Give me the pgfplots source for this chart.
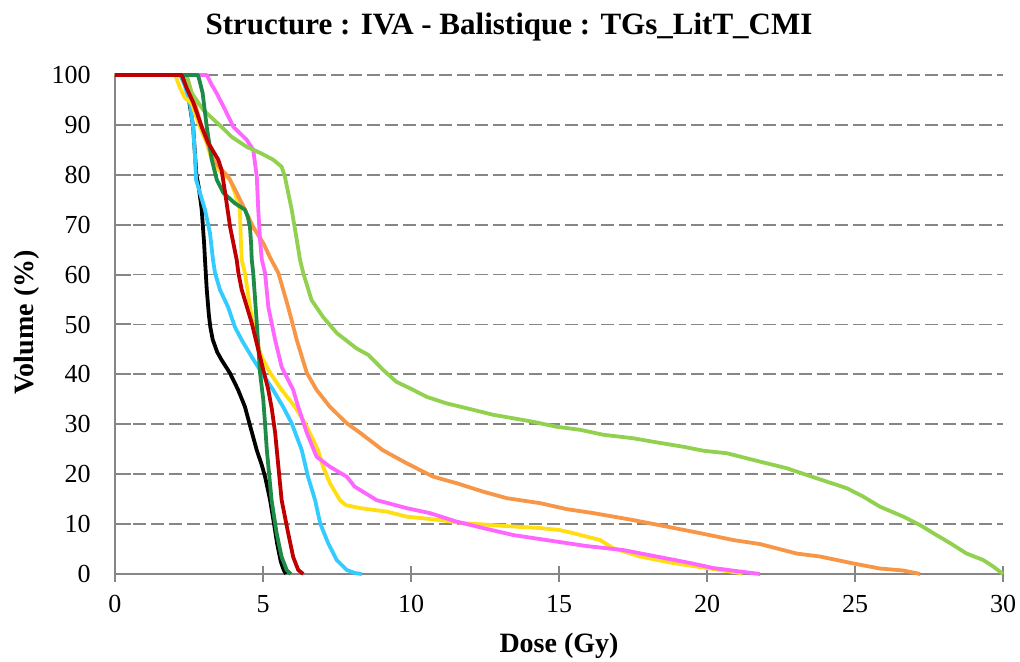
\documentclass[border=0pt]{standalone}
\usepackage{fontspec}
\setmainfont{Liberation Serif}
\usepackage{pgfplots}
\pgfplotsset{compat=1.18}

\definecolor{cblue}{RGB}{51,204,255}
\definecolor{cdgreen}{RGB}{30,140,70}
\definecolor{cred}{RGB}{192,0,0}
\definecolor{cyellow}{RGB}{255,222,20}
\definecolor{corange}{RGB}{247,150,70}
\definecolor{cpink}{RGB}{255,102,255}
\definecolor{clgreen}{RGB}{146,208,80}
\definecolor{cgrid}{RGB}{134,134,134}

\begin{document}
\begin{tikzpicture}
\useasboundingbox (-57.5pt,-44pt) rectangle (452.5pt,287pt);
\begin{axis}[
  scale only axis,
  width=444pt, height=249.5pt,
  xmin=0, xmax=30, ymin=0, ymax=100,
  xtick={0,5,...,30}, ytick={0,10,...,100},
  clip=false,
  axis lines*=left,
  axis line style={cgrid, line width=1.1pt},
  tick style={cgrid, line width=1pt},
  major tick length=8pt,
  xtick align=center, ytick align=inside,
  ymajorgrids,
  major grid style={cgrid, line width=0.9pt, dash pattern=on 6.5pt off 2.5pt},
  /pgf/number format/assume math mode=true,
  tick label style={font=\fontsize{13}{15}\selectfont},
  xticklabel style={yshift=-3pt},
  yticklabel style={xshift=-8.7pt},
  xlabel={\textbf{Dose (Gy)}},
  ylabel={\textbf{Volume (\%)}},
  label style={font=\fontsize{14}{16}\selectfont},
  xlabel style={at={(rel axis cs:0.5,-0.158)}, anchor=base},
  ylabel style={at={(rel axis cs:-0.0923,0.504)}, anchor=base},
  every axis plot/.append style={line width=1.9pt, line join=round, no marks},
]
% black
\addplot[black] coordinates {
(0,100) (2.35,100) (2.5,95) (2.64,89.6) (2.75,80) (2.83,77.5) (2.93,73) (3.01,66.3) (3.05,62) (3.1,57) (3.17,52) (3.22,49.5) (3.3,47) (3.45,44.5) (3.6,42.9) (3.88,40.3) (4.16,36.9) (4.39,33.5) (4.55,30) (4.79,24.8) (4.95,22) (5.07,19.5) (5.24,14.8) (5.36,10.5) (5.48,6) (5.6,2.5) (5.7,0.8) (5.78,0)
};
% light blue
\addplot[cblue] coordinates {
(0,100) (2.2,100) (2.35,98) (2.53,94.4) (2.64,89.6) (2.7,84) (2.74,79) (2.87,76.4) (3.04,73) (3.21,68.3) (3.31,63) (3.38,60.3) (3.55,56.9) (3.82,53.5) (4.05,49.5) (4.28,46.9) (4.62,43.5) (4.96,40.3) (5.34,36.9) (5.68,33.5) (5.97,30.2) (6.31,24.8) (6.52,19.5) (6.76,14.8) (6.93,10.2) (7.2,6.2) (7.49,2.8) (7.83,0.8) (8.1,0.2) (8.34,0)
};
% yellow
\addplot[cyellow] coordinates {
(0,100) (2.03,100) (2.2,97.4) (2.36,95.4) (2.59,94.3) (2.87,89.6) (3.1,86.4) (3.27,83) (3.49,81) (3.89,79) (4.05,76.4) (4.22,73) (4.25,67) (4.28,63) (4.39,60.3) (4.56,53.5) (4.78,46.9) (4.95,43.5) (5.24,40.3) (5.63,36.9) (6.08,33.5) (6.42,30.2) (6.69,26.9) (6.86,24.8) (7.03,21.5) (7.26,18.2) (7.6,14.8) (7.8,13.8) (8.28,13.2) (9.18,12.5) (9.85,11.5) (10.98,10.8) (11.76,10.2) (13.23,9.6) (14.36,9.2) (15.03,8.8) (15.47,8.2) (16.39,6.8) (16.82,5.2) (17.74,3.5) (18.85,2.2) (19.99,1.2) (21.11,0.2) (21.2,0)
};
% orange
\addplot[corange] coordinates {
(0,100) (2.42,100) (2.59,96.4) (2.93,89.6) (3.32,83) (3.6,81) (3.83,79.6) (4.11,76.4) (4.39,73) (4.67,69.5) (5.01,66.3) (5.25,63.3) (5.52,60.3) (5.85,53.5) (6.14,46.9) (6.48,40.3) (6.81,36.9) (7.26,33.5) (7.83,30.2) (8.28,28.3) (9.05,24.8) (9.85,22.2) (10.75,19.5) (11.54,18.2) (12.44,16.5) (13.23,15.2) (14.36,14.2) (15.26,13) (16.16,12.2) (17.51,10.8) (18.64,9.5) (19.76,8.2) (20.89,6.8) (21.79,6.0) (23.03,4.1) (23.82,3.5) (24.95,2.1) (25.84,1.1) (26.63,0.7) (27.2,0)
};
% pink
\addplot[cpink] coordinates {
(0,100) (3.1,100) (3.27,98) (3.44,96.3) (3.72,93) (4,89.6) (4.45,87) (4.67,85) (4.79,79.6) (4.84,73) (4.9,67) (4.96,63) (5.07,60.3) (5.18,53.5) (5.41,46.9) (5.63,41.5) (6.02,36.9) (6.19,33.5) (6.48,28.3) (6.81,23.5) (7.26,21.5) (7.83,19.5) (8.1,17.5) (8.84,14.8) (9.85,13.2) (10.64,12.2) (11.54,10.5) (12.44,9.2) (13.46,7.8) (14.58,6.8) (15.93,5.6) (17.17,4.8) (18.3,3.5) (19.43,2.2) (20.21,1.2) (21.11,0.5) (21.79,0)
};
% light green
\addplot[clgreen] coordinates {
(0,100) (2.4,100) (2.59,96.4) (2.98,93) (3.6,89.6) (3.94,87.6) (4.45,85.6) (4.9,84.4) (5.35,83) (5.63,81.6) (5.74,79.6) (5.97,73) (6.14,67) (6.25,63) (6.36,60.3) (6.64,54.9) (7.03,51.5) (7.49,48.3) (8.16,45.2) (8.56,43.9) (9.06,40.9) (9.51,38.5) (9.97,37.2) (10.53,35.5) (11.2,34.2) (12.1,32.9) (12.78,31.9) (13.46,31.2) (14.13,30.5) (14.92,29.5) (15.71,28.9) (16.5,27.9) (17.51,27.2) (18.18,26.5) (19.2,25.5) (19.88,24.7) (20.67,24.2) (21.6,22.8) (22.69,21.2) (23.9,18.8) (24.72,17.2) (25.28,15.5) (25.84,13.5) (26.63,11.5) (27.2,9.8) (27.64,8.2) (28.21,6.2) (28.77,4.1) (29.33,2.8) (29.67,1.5) (30,0)
};
% dark green
\addplot[cdgreen] coordinates {
(0,100) (2.8,100) (2.85,99) (2.96,96.4) (3.1,89.6) (3.27,83) (3.44,79) (3.66,76.4) (4.05,74.3) (4.39,73) (4.49,71.5) (4.56,69.5) (4.6,66) (4.62,63) (4.67,60.3) (4.79,50.3) (4.9,40.3) (5.01,34.9) (5.07,30) (5.13,24.8) (5.29,14.8) (5.46,8.2) (5.63,3.4) (5.8,0.8) (5.94,0)
};
% red
\addplot[cred] coordinates {
(0,100) (2.25,100) (2.42,97.4) (2.65,94.4) (2.93,89.6) (3.15,86.4) (3.49,83) (3.6,81) (3.72,76.4) (3.89,69.5) (4.11,63) (4.17,60.3) (4.28,57) (4.62,50.3) (4.9,43.5) (5.18,36.9) (5.3,33) (5.41,28.3) (5.52,21.5) (5.63,14.8) (5.85,8.2) (6.02,3.4) (6.19,0.8) (6.36,0)
};
\end{axis}
\node[anchor=base, font=\fontsize{15.5}{18}\selectfont\bfseries] at (197pt,269.5pt) {Structure : IVA - Balistique : TGs\_LitT\_CMI};
\end{tikzpicture}
\end{document}
